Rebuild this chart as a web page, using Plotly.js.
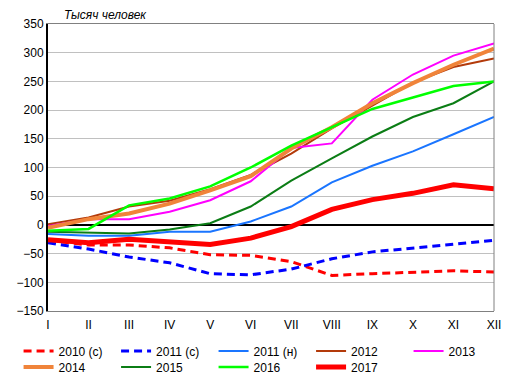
<!DOCTYPE html>
<html>
<head>
<meta charset="utf-8">
<script src="https://cdn.plot.ly/plotly-3.0.1.min.js"></script>
<style>
html,body{margin:0;padding:0;background:#fff;}
#chart{width:513px;height:382px;}
</style>
</head>
<body>
<div id="chart"></div>
<script>
const months = ["I","II","III","IV","V","VI","VII","VIII","IX","X","XI","XII"];
const yTitle = "Тысяч человек";

const s2010c = [-27, -35, -35, -40, -52, -53, -64, -88, -85, -83, -80, -82];
const s2011c = [-31, -42, -56, -66, -85, -87, -77, -59, -47, -40, -33, -27];
const s2011n = [-16, -19, -19, -12, -12, 6, 32, 74, 103, 128, 158, 188];
const s2012 = [1, 13, 32, 42, 62, 87, 124, 168, 208, 248, 275, 290];
const s2013 = [-2, 10, 10, 23, 43, 76, 134, 142, 218, 262, 295, 316];
const s2014 = [-5, 10, 20, 37, 60, 85, 133, 170, 212, 247, 279, 307];
const s2015 = [-12, -13, -15, -8, 3, 32, 77, 116, 154, 188, 212, 250];
const s2016 = [-10, -7, 34, 46, 67, 100, 138, 170, 202, 222, 242, 250];
const s2017 = [-26, -31, -25, -30, -34, -23, -3, 27, 44, 55, 70, 63];

const names = ["2010 (с)", "2011 (с)", "2011 (н)", "2012", "2013", "2014", "2015", "2016", "2017"];
const series = [s2010c, s2011c, s2011n, s2012, s2013, s2014, s2015, s2016, s2017];
const styles = [
  {color:"#ff0000", width:3, dash:"8px,5px"},
  {color:"#0000ff", width:3, dash:"8px,5px"},
  {color:"#1a75ff", width:2},
  {color:"#b33a0a", width:2},
  {color:"#ff00ff", width:2},
  {color:"#f0843a", width:4},
  {color:"#0b7d15", width:2},
  {color:"#00ff00", width:2.5},
  {color:"#ff0000", width:5}
];

const traces = series.map((s, i) => ({
  type: "scatter",
  mode: "lines",
  x: months,
  y: s,
  name: names[i],
  line: Object.assign({}, styles[i]),
  legend: i < 5 ? "legend" : "legend2",
  hoverinfo: "skip"
}));

const legendCommon = {
  orientation: "h",
  xref: "paper",
  yref: "paper",
  x: -0.066,
  xanchor: "left",
  yanchor: "middle",
  entrywidth: 52.5,
  entrywidthmode: "pixels",
  font: {family: "Liberation Sans, Arial, sans-serif", size: 12, color: "#000"},
  bgcolor: "rgba(0,0,0,0)",
  itemclick: false,
  traceorder: "normal"
};

const layout = {
  width: 513,
  height: 382,
  margin: {l: 48, r: 19, t: 24, b: 71, autoexpand: false},
  paper_bgcolor: "#fff",
  plot_bgcolor: "#fff",
  font: {family: "Liberation Sans, Arial, sans-serif", size: 12, color: "#000"},
  showlegend: true,
  legend: Object.assign({}, legendCommon, {y: -(351 - 311) / 287}),
  legend2: Object.assign({}, legendCommon, {y: -(367 - 311) / 287}),
  xaxis: {
    type: "category",
    range: [0, 11],
    showgrid: false,
    zeroline: false,
    showline: true,
    linecolor: "#808080",
    linewidth: 1,
    mirror: true,
    ticks: "",
    ticklabelstandoff: 3,
    tickfont: {size: 12, color: "#000"},
    fixedrange: true
  },
  yaxis: {
    range: [-150, 350],
    dtick: 50,
    tick0: 0,
    showgrid: true,
    gridcolor: "#c0c0c0",
    gridwidth: 1,
    zeroline: true,
    zerolinecolor: "#000",
    zerolinewidth: 1.5,
    showline: true,
    linecolor: "#000",
    linewidth: 2,
    ticks: "",
    tickfont: {size: 12, color: "#000"},
    fixedrange: true
  },
  shapes: [
    {type: "line", xref: "paper", yref: "paper", x0: 1, x1: 1, y0: 0, y1: 1,
     line: {color: "#808080", width: 1}}
  ],
  annotations: [
    {text: "<i>" + yTitle + "</i>", xref: "paper", yref: "paper",
     x: 0.032, y: 1.03, xanchor: "left", yanchor: "middle", showarrow: false,
     font: {size: 12, color: "#000"}}
  ]
};

Plotly.newPlot("chart", traces, layout, {displayModeBar: false, staticPlot: true});
</script>
</body>
</html>
